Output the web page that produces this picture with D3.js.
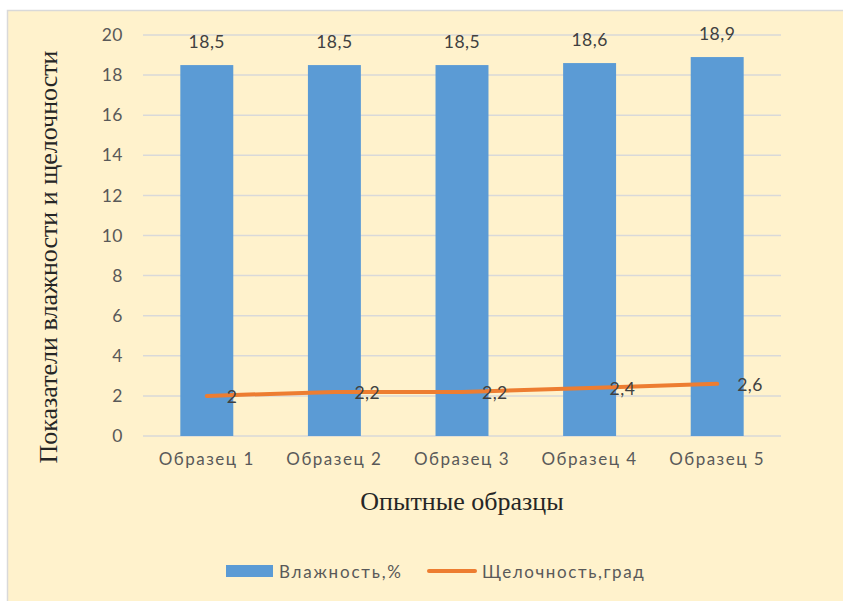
<!DOCTYPE html>
<html><head><meta charset="utf-8">
<script src="https://cdn.jsdelivr.net/npm/d3@7"></script>
<style>html,body{margin:0;padding:0;background:#fff;}svg{display:block;}</style>
</head><body>
<script>
const categories = ["Образец 1","Образец 2","Образец 3","Образец 4","Образец 5"];
const moisture = [18.5, 18.5, 18.5, 18.6, 18.9];
const alkalinity = [2, 2.2, 2.2, 2.4, 2.6];
const yTicks = [0,2,4,6,8,10,12,14,16,18,20];
const seriesNames = ["Влажность,%", "Щелочность,град"];
const yTitle = "Показатели влажности и щелочности";
const xTitle = "Опытные образцы";

(function(){
const W = 843, H = 601;
const svg = d3.select("body").append("svg").attr("width", W).attr("height", H);
svg.append("rect").attr("x",7.5).attr("y",10.5).attr("width",W).attr("height",H)
  .attr("fill","#FFF2CC").attr("stroke","#D9D9D9").attr("stroke-width",1.5);

const pL = 143, pR = 781, pT = 35, pB = 436;
const x = d3.scaleBand().domain(categories).range([pL,pR]).paddingInner(0.585).paddingOuter(0.2925);
const y = d3.scaleLinear().domain([0,20]).range([pB,pT]);
const fmt = v => String(v).replace(".", ",");
const sans = "Lato, 'Open Sans', sans-serif";
const txt = "#595959";

// grid
svg.append("g").selectAll("line").data(yTicks).join("line")
  .attr("x1",pL).attr("x2",pR).attr("y1",d=>y(d)).attr("y2",d=>y(d))
  .attr("stroke","#D9D9D9").attr("stroke-width",1.5);

// y axis labels
const yAxis = d3.axisLeft(y).tickValues(yTicks).tickSize(0).tickPadding(0).tickFormat(d=>d);
const gy = svg.append("g").attr("transform",`translate(${pL-20},0)`).call(yAxis);
gy.select(".domain").remove();
gy.selectAll("text").attr("font-family",sans).attr("font-size",17.5).attr("fill",txt).attr("letter-spacing","0.5px");

// x axis labels
const xAxis = d3.axisBottom(x).tickSize(0).tickPadding(0);
const gx = svg.append("g").attr("transform",`translate(0,${pB+17})`).call(xAxis);
gx.select(".domain").remove();
gx.selectAll("text").attr("font-family",sans).attr("font-size",17).attr("fill",txt).attr("letter-spacing","1.5px");

// bars
svg.append("g").selectAll("rect").data(moisture).join("rect")
  .attr("x",(d,i)=>x(categories[i])).attr("width",x.bandwidth())
  .attr("y",d=>y(d)).attr("height",d=>y(0)-y(d)).attr("fill","#5B9BD5");
svg.append("g").selectAll("text").data(moisture).join("text")
  .attr("x",(d,i)=>x(categories[i])+x.bandwidth()/2).attr("y",d=>y(d)-17)
  .attr("text-anchor","middle").attr("font-family",sans).attr("font-size",17.5).attr("fill","#404040")
  .attr("letter-spacing","0.5px").text(fmt);

// line
const cx = i => x(categories[i]) + x.bandwidth()/2;
svg.append("path").datum(alkalinity)
  .attr("d", d3.line().x((d,i)=>cx(i)).y(d=>y(d)))
  .attr("fill","none").attr("stroke","#ED7D31").attr("stroke-width",4).attr("stroke-linecap","round");
svg.append("g").selectAll("text").data(alkalinity).join("text")
  .attr("x",(d,i)=>cx(i)+20).attr("y",d=>y(d)+7)
  .attr("font-family",sans).attr("font-size",17.5).attr("fill","#404040")
  .attr("letter-spacing","0.5px").text(fmt);

// axis titles
svg.append("text").attr("x",462).attr("y",510).attr("text-anchor","middle")
  .attr("font-family","'Liberation Serif', 'Times New Roman', serif").attr("font-size",26).attr("fill","#262626")
  .text(xTitle);
svg.append("text").attr("transform",`translate(57,257) rotate(-90)`).attr("text-anchor","middle")
  .attr("font-family","'Liberation Serif', 'Times New Roman', serif").attr("font-size",26).attr("fill","#262626")
  .text(yTitle);

// legend
const lg = svg.append("g");
lg.append("rect").attr("x",226).attr("y",565).attr("width",47).attr("height",12).attr("fill","#5B9BD5");
lg.append("text").attr("x",279).attr("y",578).attr("font-family",sans).attr("font-size",17).attr("fill",txt)
  .attr("letter-spacing","1.8px").text(seriesNames[0]);
lg.append("line").attr("x1",429).attr("x2",475).attr("y1",571).attr("y2",571)
  .attr("stroke","#ED7D31").attr("stroke-width",4).attr("stroke-linecap","round");
lg.append("text").attr("x",482).attr("y",578).attr("font-family",sans).attr("font-size",17).attr("fill",txt)
  .attr("letter-spacing","1.6px").text(seriesNames[1]);
})();
</script>
</body></html>
